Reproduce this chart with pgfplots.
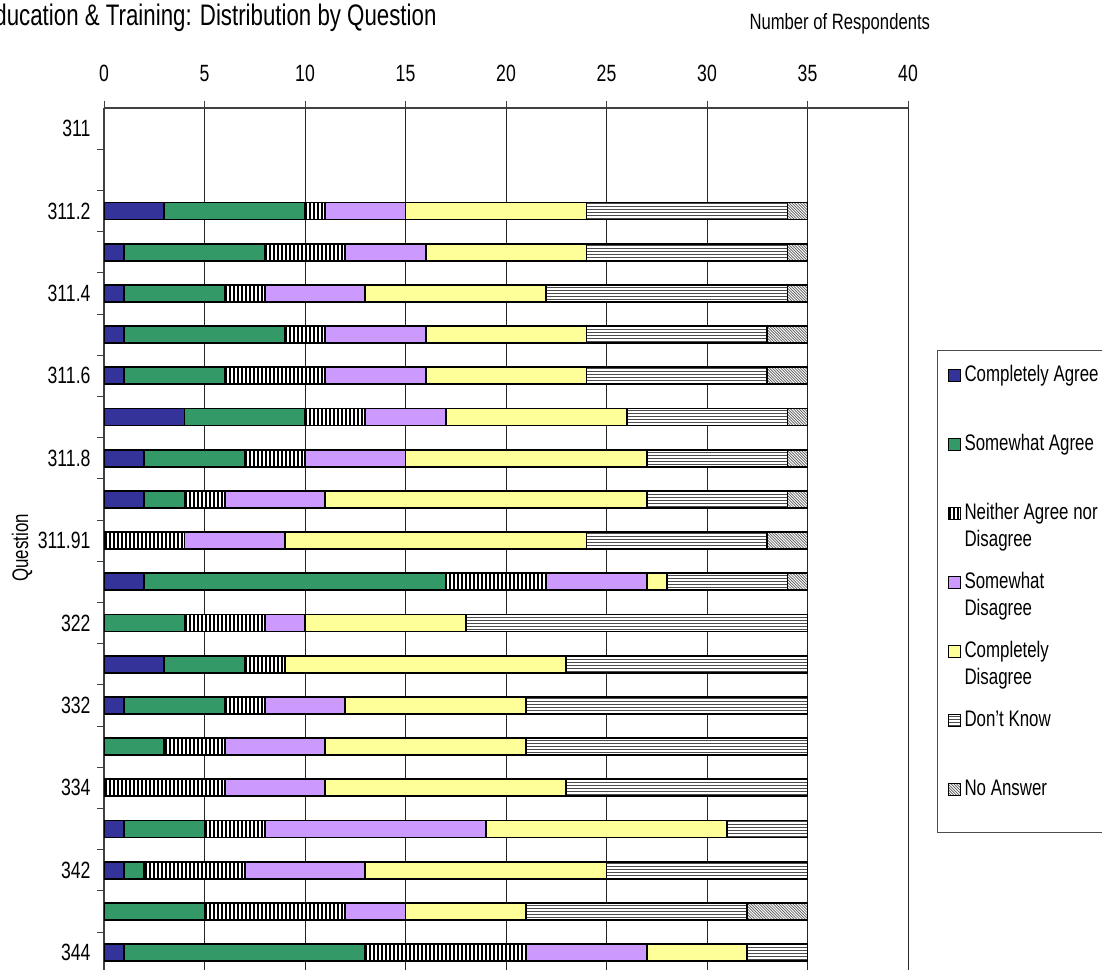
\documentclass[border=0pt]{standalone}
\usepackage{fontspec}
\setmainfont{Liberation Sans}[FakeStretch=0.75]
\usepackage{pgfplots}
\pgfplotsset{compat=1.18}
\usepackage{pgfplotstable}

\definecolor{cagree}{HTML}{333399}
\definecolor{sagree}{HTML}{339966}
\definecolor{sdis}{HTML}{CC99FF}
\definecolor{cdis}{HTML}{FFFF99}

% stripe fills, drawn inside the bars of a series (and its legend square)
% with basic-layer paths, clipped to the bars
\newcommand\stripe[4]{% from (sw + #1,#2) to (sw + #3,#4)
  \pgfpathmoveto{\pgfpointadd{\pgfpointanchor{path picture bounding box}{south west}}{\pgfpoint{#1}{#2}}}%
  \pgfpathlineto{\pgfpointadd{\pgfpointanchor{path picture bounding box}{south west}}{\pgfpoint{#3}{#4}}}%
  \pgfusepath{stroke}}
\tikzset{
  vstripes/.style={path picture={%
    \pgfsetlinewidth{2pt}\pgfsetstrokecolor{black}%
    \foreach \k in {0,...,190}{\pgfmathsetmacro\xx{\k*4+1.5}\stripe{\xx pt}{0pt}{\xx pt}{900pt}}}},
  hstripes/.style={path picture={%
    \pgfsetlinewidth{1pt}\pgfsetstrokecolor{black!70}%
    \foreach \k in {0,...,300}{\pgfmathsetmacro\yy{\k*3+1.5}\stripe{0pt}{\yy pt}{820pt}{\yy pt}}}},
  dstripes/.style={path picture={%
    \pgfsetlinewidth{0.7pt}\pgfsetstrokecolor{black!65}%
    \foreach \k in {0,...,360}{\pgfmathsetmacro\xx{\k*2.8-900}\pgfmathsetmacro\xb{\k*2.8}\stripe{\xx pt}{900pt}{\xb pt}{0pt}}}},
}

% row index (0 = 311 at the top), then counts per answer
\pgfplotstableread{
row CA SA N  SD CD DK NA
2   3  7  1  4  9  10 1
3   1  7  4  4  8  10 1
4   1  5  2  5  9  12 1
5   1  8  2  5  8  9  2
6   1  5  5  5  8  9  2
7   4  6  3  4  9  8  1
8   2  5  3  5  12 7  1
9   2  2  2  5  16 7  1
10  0  0  4  5  15 9  2
11  2  15 5  5  1  6  1
12  0  4  4  2  8  17 0
13  3  4  2  0  14 12 0
14  1  5  2  4  9  14 0
15  0  3  3  5  10 14 0
16  0  0  6  5  12 12 0
17  1  4  3  11 12 4  0
18  1  1  5  6  12 10 0
19  0  5  7  3  6  11 3
20  1  12 8  6  5  3  0
}\resp

\begin{document}
\begin{tikzpicture}[x=1pt,y=1pt]
\path[use as bounding box] (0,0) rectangle (1102,969);
\begin{axis}[
  at={(104pt,-4.2pt)}, anchor=south west,
  width=804pt, height=865.2pt, scale only axis,
  xbar stacked, bar width=17pt,
  legend image code/.code={\draw[#1] (0pt,0pt) rectangle (12pt,12pt);},
  xmin=0, xmax=40, ymin=-0.5, ymax=20.5, y dir=reverse,
  axis x line*=top, axis y line*=left,
  xtick={0,5,...,40}, minor xtick={0,5,...,40},
  ytick={0,2,...,20},
  yticklabels={311,311.2,311.4,311.6,311.8,311.91,322,332,334,342,344},
  minor ytick={0.5,1.5,...,19.5},
  major tick length=0pt, minor tick length=7pt, tick align=outside,
  tick style={black!75, line width=1pt},
  xmajorgrids, major grid style={black!85, line width=0.9pt},
  axis line style={black!75, line width=1.6pt},
  /pgf/number format/assume math mode=true,
  tick label style={font=\fontsize{23.5}{27}\selectfont},
  xticklabel style={yshift=23pt},
  yticklabel style={xshift=-10pt},
  every axis plot/.append style={draw=black, line width=1.8pt},
  legend style={at={(1.0361,0.7203)}, anchor=north west,
    draw=black!70, line width=1pt, fill=white,
    inner xsep=10pt, inner ysep=10pt, row sep=21pt, column sep=3pt,
    font=\fontsize{22.5}{27}\selectfont,
    cells={anchor=base west},
    nodes={inner sep=0pt, text height=21pt, text depth=27pt}},
]
\addplot[fill=cagree] table[x=CA, y=row] {\resp};
\addlegendentry{Completely Agree}
\addplot[fill=sagree] table[x=SA, y=row] {\resp};
\addlegendentry{Somewhat Agree}
\addplot[fill=white, vstripes] table[x=N, y=row] {\resp};
\addlegendentry{\begin{tabular}[t]{@{}l@{}}Neither Agree nor\\Disagree\end{tabular}}
\addplot[fill=sdis] table[x=SD, y=row] {\resp};
\addlegendentry{\begin{tabular}[t]{@{}l@{}}Somewhat\\Disagree\end{tabular}}
\addplot[fill=cdis] table[x=CD, y=row] {\resp};
\addlegendentry{\begin{tabular}[t]{@{}l@{}}Completely\\Disagree\end{tabular}}
\addplot[fill=white, hstripes] table[x=DK, y=row] {\resp};
\addlegendentry{Don't Know}
\addplot[fill=white, dstripes] table[x=NA, y=row] {\resp};
\addlegendentry{No Answer}
\end{axis}
\node[anchor=base east, font=\fontsize{29.7}{34}\selectfont] at (440,943) {Education \& Training: Distribution by Question};
\node[anchor=base west, font=\fontsize{22.2}{26}\selectfont] at (746,939) {Number of Respondents};
\node[rotate=90, anchor=base, font=\fontsize{22.5}{26}\selectfont] at (28,421) {Question};
\end{tikzpicture}
\end{document}
